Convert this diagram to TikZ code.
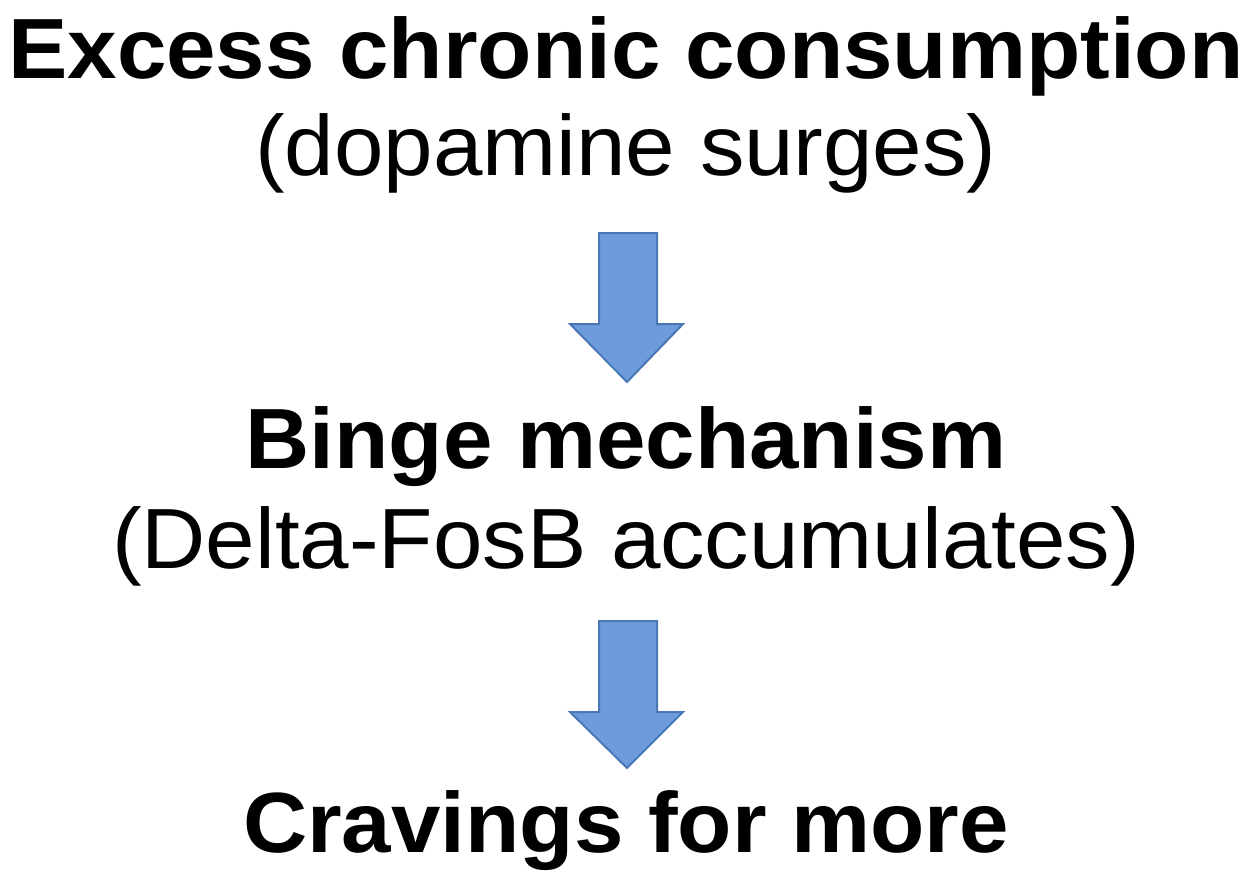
\documentclass[tikz,border=0pt]{standalone}
\usepackage{fontspec}
\setmainfont{Liberation Sans}[FakeStretch=1.04]
\definecolor{arrowfill}{HTML}{6E9BDB}
\definecolor{arrowline}{HTML}{4A78B5}
\begin{document}
\begin{tikzpicture}[x=1pt,y=-1pt,
  boldtext/.style={anchor=base,inner sep=0pt,font=\fontsize{85.5}{100}\selectfont\bfseries},
  plaintext/.style={anchor=base,inner sep=0pt,font=\fontsize{85.5}{100}\selectfont},
  blockarrow/.style={fill=arrowfill,draw=arrowline,line width=2pt,line join=miter}]
\useasboundingbox (0,0) rectangle (1249,883);
\node[boldtext] (t1) at (626,78) {Excess chronic consumption};
\node[plaintext] (t2) at (626,175) {(dopamine surges)};
\node[boldtext] (t3) at (626,468) {Binge mechanism};
\node[plaintext] (t4) at (626,568) {(Delta-FosB accumulates)};
\node[boldtext] (t5) at (626,852) {Cravings for more};
\draw[blockarrow] (599,233) -- (657,233) -- (657,324) -- (683,324) -- (627,382) -- (570,324) -- (599,324) -- cycle;
\draw[blockarrow] (599,621) -- (657,621) -- (657,712) -- (683,712) -- (627,768) -- (570,712) -- (599,712) -- cycle;
\end{tikzpicture}
\end{document}
